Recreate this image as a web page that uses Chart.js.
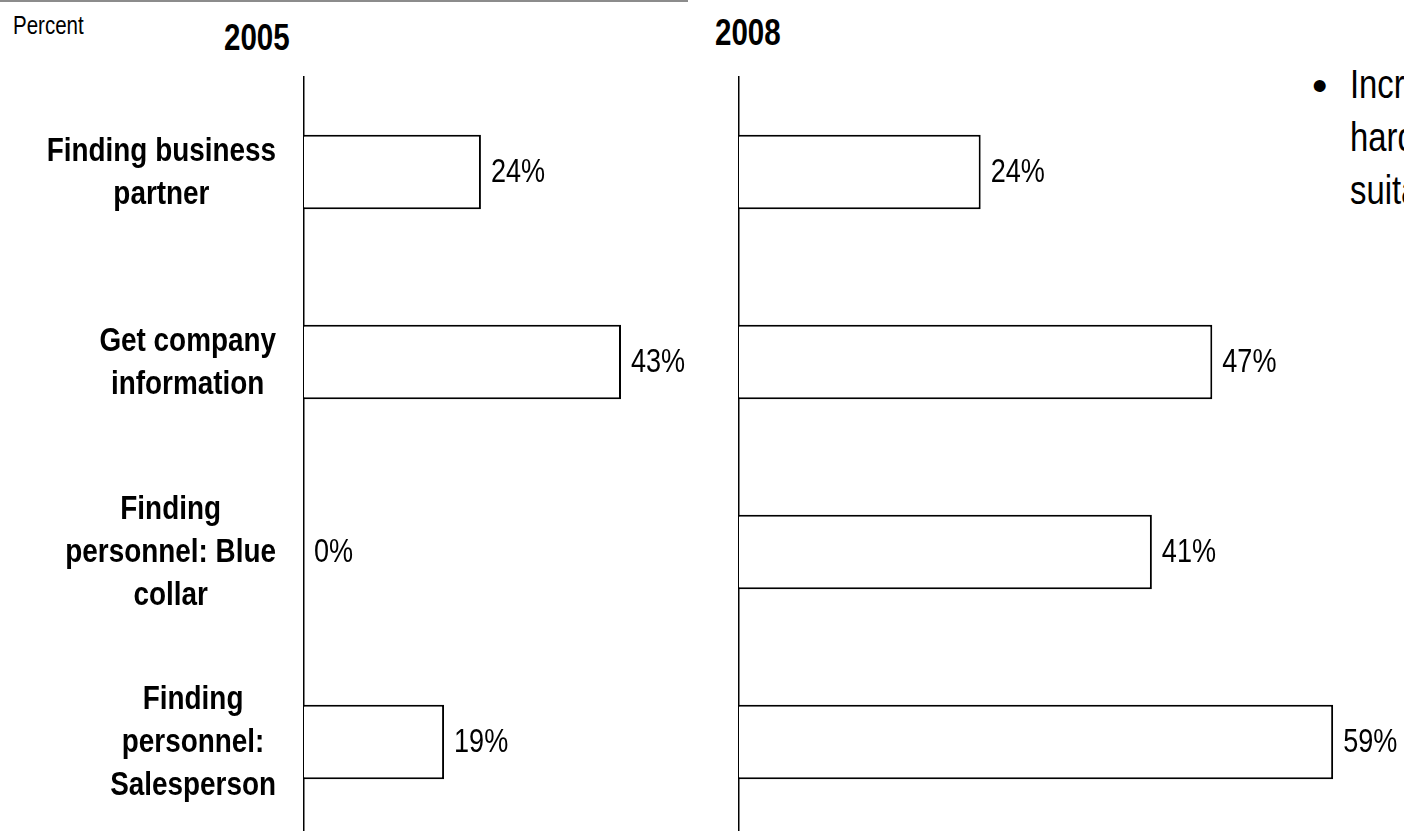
<!DOCTYPE html>
<html>
<head>
<meta charset="utf-8">
<script src="https://cdn.jsdelivr.net/npm/chart.js@4.4.1/dist/chart.umd.min.js"></script>
<style>
    html, body { margin: 0; padding: 0; background: #fff; overflow: hidden; width: 1404px; height: 831px; }
    body { position: relative; font-family: "Liberation Sans", Arial, sans-serif; color: #000; }
    canvas { position: absolute; left: 0; top: 0; }
    .rule { position: absolute; left: 0; top: 0; width: 688px; height: 2px; background: #8c8c8c; }
    .txt { position: absolute; white-space: nowrap; transform: scaleX(0.82); transform-origin: 0 0; }
    .unit { left: 13px; top: 13px; font-size: 25px; line-height: 25px; }
    .year { font-size: 36px; line-height: 36px; font-weight: bold; }
    .note { left: 1350px; top: 58px; font-size: 40px; line-height: 53px; }
    .dot { position: absolute; left: 1312px; top: 59px; font-size: 44px; line-height: 53px; }
</style>
</head>
<body>
<div class="rule"></div>
<div class="txt unit">Percent</div>
<div class="txt year" style="left:224px; top:20px;">2005</div>
<div class="txt year" style="left:715px; top:15px;">2008</div>
<div class="dot">•</div>
<div class="txt note">Increasingly<br>harder to find<br>suitable salespeople</div>
<canvas id="chart2005" width="1404" height="850"></canvas>
<canvas id="chart2008" width="1404" height="850"></canvas>

<script>
const FONT = '"Liberation Sans", Arial, sans-serif';
const NARROW = 0.82; // imita Arial Narrow

const categories = [
    ["Finding business", "partner"],
    ["Get company", "information"],
    ["Finding", "personnel: Blue", "collar"],
    ["Finding", "personnel:", "Salesperson"]
];
const values2005 = [24, 43, 0, 19];
const values2008 = [24, 47, 41, 59];

function narrowText(ctx, text, x, y) {
    ctx.save();
    ctx.translate(x, y);
    ctx.scale(NARROW, 1);
    ctx.fillText(text, 0, 0);
    ctx.restore();
}

// etiquetas de valor a la derecha de cada barra
const valueLabels = {
    id: "valueLabels",
    afterDatasetsDraw(chart) {
        const ctx = chart.ctx;
        const meta = chart.getDatasetMeta(0);
        const data = chart.data.datasets[0].data;
        ctx.save();
        ctx.font = "33px " + FONT;
        ctx.fillStyle = "#000";
        ctx.textAlign = "left";
        ctx.textBaseline = "middle";
        meta.data.forEach((bar, i) => {
            narrowText(ctx, data[i] + "%", bar.x + 10, bar.y + 1);
        });
        ctx.restore();
    }
};

// categorias: bloque alineado a la derecha, lineas centradas
const categoryLabels = {
    id: "categoryLabels",
    afterDraw(chart) {
        const ctx = chart.ctx;
        const yScale = chart.scales.y;
        const right = chart.chartArea.left - 28;
        ctx.save();
        ctx.font = "bold 34px " + FONT;
        ctx.fillStyle = "#000";
        ctx.textAlign = "center";
        ctx.textBaseline = "middle";
        categories.forEach((lines, i) => {
            const yc = yScale.getPixelForValue(i);
            const w = Math.max(...lines.map(l => ctx.measureText(l).width)) * NARROW;
            const cx = right - w / 2;
            lines.forEach((line, j) => {
                narrowText(ctx, line, cx, yc + 1 + (j - (lines.length - 1) / 2) * 43);
            });
        });
        ctx.restore();
    }
};

function renderPanel(id, values, axisLeft, xMax, rightPad, plugins) {
    new Chart(document.getElementById(id), {
        type: "bar",
        data: {
            labels: categories.map(c => c.join(" ")),
            datasets: [{
                data: values,
                backgroundColor: "#fff",
                borderColor: "#000",
                borderWidth: 2,
                borderSkipped: "start",
                categoryPercentage: 0.4,
                barPercentage: 0.98
            }]
        },
        options: {
            indexAxis: "y",
            responsive: false,
            animation: false,
            events: [],
            layout: { padding: { top: 77, bottom: 13, left: 0, right: rightPad } },
            plugins: { legend: { display: false }, tooltip: { enabled: false } },
            scales: {
                x: { display: false, min: 0, max: xMax },
                y: {
                    grid: { display: false, drawTicks: false },
                    border: { display: true, color: "#000", width: 1.5 },
                    ticks: { display: false },
                    afterFit: s => { s.width = axisLeft; }
                }
            }
        },
        plugins: plugins
    });
}

document.addEventListener("DOMContentLoaded", () => {
    renderPanel("chart2005", values2005, 304, 50, 1404 - 304 - 50 * 7.372, [valueLabels, categoryLabels]);
    renderPanel("chart2008", values2008, 739, 60, 1404 - 739 - 60 * 10.07, [valueLabels]);
});
</script>
</body>
</html>
